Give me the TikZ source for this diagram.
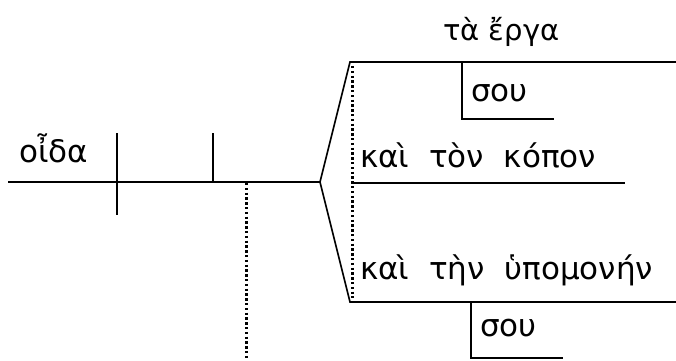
\documentclass[tikz,border=0pt]{standalone}
\usepackage{fontspec}
\setmainfont{DejaVu Sans}
\usetikzlibrary{positioning}
\newcommand\diagfont{\fontsize{31}{36}\selectfont\spaceskip 0.64em\relax}
\tikzstyle{word}=[font=\diagfont,inner sep=0pt,anchor=base west]
\tikzstyle{headword}=[word,font=\fontsize{29}{34}\selectfont]
\tikzstyle{diagline}=[draw,line width=1.6pt]
\tikzstyle{dotline}=[draw,line width=3pt,dash pattern=on 2.4pt off 2.4pt]

\begin{document}
\begin{tikzpicture}[x=1pt,y=-1pt]
    \useasboundingbox (0,0) rectangle (676,360);

    \foreach \pos/\name in {{(8,182)/start}, {(117,133)/svtop}, {(117,215)/svbot}, {(213,133)/votop}, {(213,182)/vobot},
        {(246,183)/dottop}, {(246,360)/dotbot}, {(320,182)/fork},
        {(350,62)/upleft}, {(676,62)/upright}, {(462,62)/sutop}, {(462,119)/sucorner}, {(554,119)/suend},
        {(353,183)/midleft}, {(625,183)/midright}, {(352,66)/vdtop}, {(352,298)/vdbot},
        {(350,302)/lowleft}, {(676,302)/lowright}, {(471,302)/sltop}, {(471,358)/slcorner}, {(563,358)/slend}}
        \node[coordinate] (\name) at \pos {};

    \foreach \pos/\name/\label in {{(19,162)/verb/οἶδα}, {(471,101)/sou1/σου},
        {(360,167)/kopon/καὶ τὸν κόπον}, {(360,279)/hypomone/καὶ τὴν ὑπομονήν}, {(480,336)/sou2/σου}}
        \node[word] (\name) at \pos {\label};
    \node[headword] (erga) at (443,40) {τὰ ἔργα};

    \path[diagline] (start) -- (fork);
    \path[diagline] (svtop) -- (svbot);
    \path[diagline] (votop) -- (vobot);
    \path[diagline] (upright) -- (upleft) -- (fork) -- (lowleft) -- (lowright);
    \path[diagline] (midleft) -- (midright);
    \path[diagline] (sutop) -- (sucorner) -- (suend);
    \path[diagline] (sltop) -- (slcorner) -- (slend);
    \path[dotline] (dottop) -- (dotbot);
    \path[dotline] (vdtop) -- (vdbot);
\end{tikzpicture}
\end{document}
